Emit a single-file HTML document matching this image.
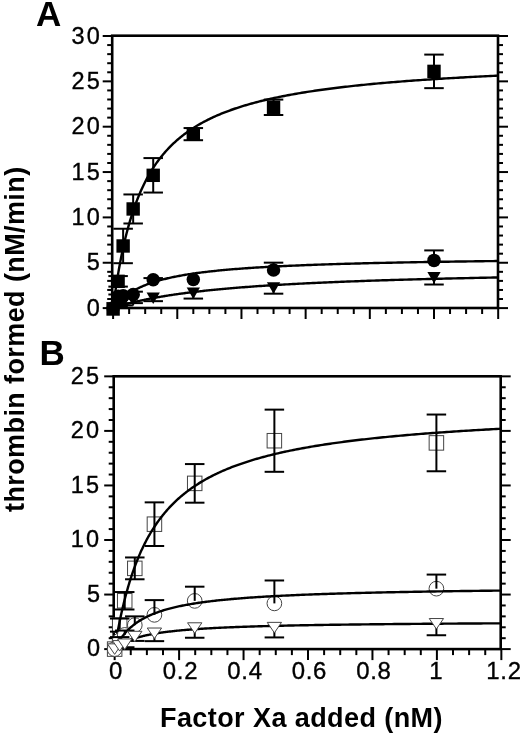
<!DOCTYPE html>
<html><head><meta charset="utf-8"><style>
html,body{margin:0;padding:0;background:#fff;width:520px;height:734px;overflow:hidden;font-family:"Liberation Sans",sans-serif}
svg{display:block;filter:grayscale(1)}
</style></head><body>
<svg width="520" height="734" viewBox="0 0 520 734" font-family="Liberation Sans, sans-serif">
<rect width="520" height="734" fill="#fff"/>
<rect x="112.20" y="35.70" width="385.80" height="272.30" fill="none" stroke="#000" stroke-width="2.6"/>
<line x1="102.70" y1="308.10" x2="112.20" y2="308.10" stroke="#000" stroke-width="2.0"/>
<line x1="498.00" y1="308.10" x2="508.00" y2="308.10" stroke="#000" stroke-width="2.0"/>
<line x1="107.20" y1="299.03" x2="112.20" y2="299.03" stroke="#000" stroke-width="2.0"/>
<line x1="498.00" y1="299.03" x2="503.00" y2="299.03" stroke="#000" stroke-width="2.0"/>
<line x1="107.20" y1="289.96" x2="112.20" y2="289.96" stroke="#000" stroke-width="2.0"/>
<line x1="498.00" y1="289.96" x2="503.00" y2="289.96" stroke="#000" stroke-width="2.0"/>
<line x1="107.20" y1="280.89" x2="112.20" y2="280.89" stroke="#000" stroke-width="2.0"/>
<line x1="498.00" y1="280.89" x2="503.00" y2="280.89" stroke="#000" stroke-width="2.0"/>
<line x1="107.20" y1="271.82" x2="112.20" y2="271.82" stroke="#000" stroke-width="2.0"/>
<line x1="498.00" y1="271.82" x2="503.00" y2="271.82" stroke="#000" stroke-width="2.0"/>
<line x1="102.70" y1="262.75" x2="112.20" y2="262.75" stroke="#000" stroke-width="2.0"/>
<line x1="498.00" y1="262.75" x2="508.00" y2="262.75" stroke="#000" stroke-width="2.0"/>
<line x1="107.20" y1="253.68" x2="112.20" y2="253.68" stroke="#000" stroke-width="2.0"/>
<line x1="498.00" y1="253.68" x2="503.00" y2="253.68" stroke="#000" stroke-width="2.0"/>
<line x1="107.20" y1="244.61" x2="112.20" y2="244.61" stroke="#000" stroke-width="2.0"/>
<line x1="498.00" y1="244.61" x2="503.00" y2="244.61" stroke="#000" stroke-width="2.0"/>
<line x1="107.20" y1="235.54" x2="112.20" y2="235.54" stroke="#000" stroke-width="2.0"/>
<line x1="498.00" y1="235.54" x2="503.00" y2="235.54" stroke="#000" stroke-width="2.0"/>
<line x1="107.20" y1="226.47" x2="112.20" y2="226.47" stroke="#000" stroke-width="2.0"/>
<line x1="498.00" y1="226.47" x2="503.00" y2="226.47" stroke="#000" stroke-width="2.0"/>
<line x1="102.70" y1="217.40" x2="112.20" y2="217.40" stroke="#000" stroke-width="2.0"/>
<line x1="498.00" y1="217.40" x2="508.00" y2="217.40" stroke="#000" stroke-width="2.0"/>
<line x1="107.20" y1="208.33" x2="112.20" y2="208.33" stroke="#000" stroke-width="2.0"/>
<line x1="498.00" y1="208.33" x2="503.00" y2="208.33" stroke="#000" stroke-width="2.0"/>
<line x1="107.20" y1="199.26" x2="112.20" y2="199.26" stroke="#000" stroke-width="2.0"/>
<line x1="498.00" y1="199.26" x2="503.00" y2="199.26" stroke="#000" stroke-width="2.0"/>
<line x1="107.20" y1="190.19" x2="112.20" y2="190.19" stroke="#000" stroke-width="2.0"/>
<line x1="498.00" y1="190.19" x2="503.00" y2="190.19" stroke="#000" stroke-width="2.0"/>
<line x1="107.20" y1="181.12" x2="112.20" y2="181.12" stroke="#000" stroke-width="2.0"/>
<line x1="498.00" y1="181.12" x2="503.00" y2="181.12" stroke="#000" stroke-width="2.0"/>
<line x1="102.70" y1="172.05" x2="112.20" y2="172.05" stroke="#000" stroke-width="2.0"/>
<line x1="498.00" y1="172.05" x2="508.00" y2="172.05" stroke="#000" stroke-width="2.0"/>
<line x1="107.20" y1="162.98" x2="112.20" y2="162.98" stroke="#000" stroke-width="2.0"/>
<line x1="498.00" y1="162.98" x2="503.00" y2="162.98" stroke="#000" stroke-width="2.0"/>
<line x1="107.20" y1="153.91" x2="112.20" y2="153.91" stroke="#000" stroke-width="2.0"/>
<line x1="498.00" y1="153.91" x2="503.00" y2="153.91" stroke="#000" stroke-width="2.0"/>
<line x1="107.20" y1="144.84" x2="112.20" y2="144.84" stroke="#000" stroke-width="2.0"/>
<line x1="498.00" y1="144.84" x2="503.00" y2="144.84" stroke="#000" stroke-width="2.0"/>
<line x1="107.20" y1="135.77" x2="112.20" y2="135.77" stroke="#000" stroke-width="2.0"/>
<line x1="498.00" y1="135.77" x2="503.00" y2="135.77" stroke="#000" stroke-width="2.0"/>
<line x1="102.70" y1="126.70" x2="112.20" y2="126.70" stroke="#000" stroke-width="2.0"/>
<line x1="498.00" y1="126.70" x2="508.00" y2="126.70" stroke="#000" stroke-width="2.0"/>
<line x1="107.20" y1="117.63" x2="112.20" y2="117.63" stroke="#000" stroke-width="2.0"/>
<line x1="498.00" y1="117.63" x2="503.00" y2="117.63" stroke="#000" stroke-width="2.0"/>
<line x1="107.20" y1="108.56" x2="112.20" y2="108.56" stroke="#000" stroke-width="2.0"/>
<line x1="498.00" y1="108.56" x2="503.00" y2="108.56" stroke="#000" stroke-width="2.0"/>
<line x1="107.20" y1="99.49" x2="112.20" y2="99.49" stroke="#000" stroke-width="2.0"/>
<line x1="498.00" y1="99.49" x2="503.00" y2="99.49" stroke="#000" stroke-width="2.0"/>
<line x1="107.20" y1="90.42" x2="112.20" y2="90.42" stroke="#000" stroke-width="2.0"/>
<line x1="498.00" y1="90.42" x2="503.00" y2="90.42" stroke="#000" stroke-width="2.0"/>
<line x1="102.70" y1="81.35" x2="112.20" y2="81.35" stroke="#000" stroke-width="2.0"/>
<line x1="498.00" y1="81.35" x2="508.00" y2="81.35" stroke="#000" stroke-width="2.0"/>
<line x1="107.20" y1="72.28" x2="112.20" y2="72.28" stroke="#000" stroke-width="2.0"/>
<line x1="498.00" y1="72.28" x2="503.00" y2="72.28" stroke="#000" stroke-width="2.0"/>
<line x1="107.20" y1="63.21" x2="112.20" y2="63.21" stroke="#000" stroke-width="2.0"/>
<line x1="498.00" y1="63.21" x2="503.00" y2="63.21" stroke="#000" stroke-width="2.0"/>
<line x1="107.20" y1="54.14" x2="112.20" y2="54.14" stroke="#000" stroke-width="2.0"/>
<line x1="498.00" y1="54.14" x2="503.00" y2="54.14" stroke="#000" stroke-width="2.0"/>
<line x1="107.20" y1="45.07" x2="112.20" y2="45.07" stroke="#000" stroke-width="2.0"/>
<line x1="498.00" y1="45.07" x2="503.00" y2="45.07" stroke="#000" stroke-width="2.0"/>
<line x1="102.70" y1="36.00" x2="112.20" y2="36.00" stroke="#000" stroke-width="2.0"/>
<line x1="498.00" y1="36.00" x2="508.00" y2="36.00" stroke="#000" stroke-width="2.0"/>
<line x1="113.10" y1="308.00" x2="113.10" y2="319.00" stroke="#000" stroke-width="2.0"/>
<line x1="129.14" y1="308.00" x2="129.14" y2="314.00" stroke="#000" stroke-width="2.0"/>
<line x1="145.19" y1="308.00" x2="145.19" y2="314.00" stroke="#000" stroke-width="2.0"/>
<line x1="161.24" y1="308.00" x2="161.24" y2="314.00" stroke="#000" stroke-width="2.0"/>
<line x1="177.28" y1="308.00" x2="177.28" y2="319.00" stroke="#000" stroke-width="2.0"/>
<line x1="193.32" y1="308.00" x2="193.32" y2="314.00" stroke="#000" stroke-width="2.0"/>
<line x1="209.37" y1="308.00" x2="209.37" y2="314.00" stroke="#000" stroke-width="2.0"/>
<line x1="225.41" y1="308.00" x2="225.41" y2="314.00" stroke="#000" stroke-width="2.0"/>
<line x1="241.46" y1="308.00" x2="241.46" y2="319.00" stroke="#000" stroke-width="2.0"/>
<line x1="257.50" y1="308.00" x2="257.50" y2="314.00" stroke="#000" stroke-width="2.0"/>
<line x1="273.55" y1="308.00" x2="273.55" y2="314.00" stroke="#000" stroke-width="2.0"/>
<line x1="289.60" y1="308.00" x2="289.60" y2="314.00" stroke="#000" stroke-width="2.0"/>
<line x1="305.64" y1="308.00" x2="305.64" y2="319.00" stroke="#000" stroke-width="2.0"/>
<line x1="321.68" y1="308.00" x2="321.68" y2="314.00" stroke="#000" stroke-width="2.0"/>
<line x1="337.73" y1="308.00" x2="337.73" y2="314.00" stroke="#000" stroke-width="2.0"/>
<line x1="353.77" y1="308.00" x2="353.77" y2="314.00" stroke="#000" stroke-width="2.0"/>
<line x1="369.82" y1="308.00" x2="369.82" y2="319.00" stroke="#000" stroke-width="2.0"/>
<line x1="385.87" y1="308.00" x2="385.87" y2="314.00" stroke="#000" stroke-width="2.0"/>
<line x1="401.91" y1="308.00" x2="401.91" y2="314.00" stroke="#000" stroke-width="2.0"/>
<line x1="417.96" y1="308.00" x2="417.96" y2="314.00" stroke="#000" stroke-width="2.0"/>
<line x1="434.00" y1="308.00" x2="434.00" y2="319.00" stroke="#000" stroke-width="2.0"/>
<line x1="450.04" y1="308.00" x2="450.04" y2="314.00" stroke="#000" stroke-width="2.0"/>
<line x1="466.09" y1="308.00" x2="466.09" y2="314.00" stroke="#000" stroke-width="2.0"/>
<line x1="482.13" y1="308.00" x2="482.13" y2="314.00" stroke="#000" stroke-width="2.0"/>
<line x1="498.18" y1="308.00" x2="498.18" y2="319.00" stroke="#000" stroke-width="2.0"/>
<polyline points="113.10,308.10 113.10,308.07 113.12,307.97 113.14,307.80 113.17,307.56 113.21,307.26 113.25,306.89 113.31,306.46 113.37,305.96 113.45,305.39 113.53,304.77 113.62,304.08 113.72,303.33 113.82,302.52 113.94,301.65 114.06,300.73 114.20,299.74 114.34,298.71 114.49,297.62 114.64,296.48 114.81,295.28 114.99,294.04 115.17,292.76 115.36,291.42 115.56,290.05 115.77,288.63 115.99,287.17 116.22,285.68 116.45,284.15 116.70,282.58 116.95,280.99 117.21,279.36 117.48,277.70 117.76,276.02 118.05,274.31 118.34,272.58 118.65,270.83 118.96,269.05 119.28,267.26 119.61,265.45 119.95,263.63 120.29,261.79 120.65,259.94 121.01,258.08 121.38,256.21 121.76,254.34 122.15,252.45 122.55,250.57 122.96,248.68 123.37,246.79 123.80,244.89 124.23,243.00 124.67,241.11 125.12,239.22 125.58,237.33 126.04,235.45 126.52,233.57 127.00,231.70 127.49,229.84 127.99,227.98 128.50,226.14 129.02,224.30 129.55,222.47 130.08,220.66 130.63,218.85 131.18,217.06 131.74,215.27 132.31,213.50 132.88,211.75 133.47,210.01 134.07,208.28 134.67,206.56 135.28,204.87 135.90,203.18 136.53,201.51 137.17,199.86 137.81,198.22 138.47,196.60 139.13,195.00 139.80,193.41 140.48,191.84 141.17,190.28 141.87,188.74 142.58,187.22 143.29,185.71 144.01,184.23 144.75,182.75 145.49,181.30 146.23,179.86 146.99,178.44 147.76,177.04 148.53,175.65 149.31,174.28 150.11,172.92 150.91,171.59 151.71,170.26 152.53,168.96 153.36,167.67 154.19,166.40 155.04,165.14 155.89,163.90 156.75,162.68 157.62,161.47 158.49,160.28 159.38,159.10 160.27,157.94 161.18,156.80 162.09,155.67 163.01,154.55 163.93,153.45 164.87,152.36 165.82,151.29 166.77,150.23 167.73,149.19 168.71,148.16 169.69,147.14 170.67,146.14 171.67,145.15 172.68,144.17 173.69,143.21 174.71,142.26 175.74,141.33 176.78,140.40 177.83,139.49 178.89,138.59 179.95,137.71 181.03,136.83 182.11,135.97 183.20,135.12 184.30,134.28 185.41,133.45 186.53,132.63 187.65,131.83 188.79,131.03 189.93,130.25 191.08,129.47 192.24,128.71 193.41,127.96 194.58,127.22 195.77,126.48 196.96,125.76 198.16,125.05 199.38,124.35 200.59,123.65 201.82,122.97 203.06,122.29 204.30,121.62 205.56,120.97 206.82,120.32 208.09,119.68 209.37,119.05 210.66,118.42 211.95,117.81 213.26,117.20 214.57,116.60 215.89,116.01 217.23,115.43 218.56,114.85 219.91,114.29 221.27,113.73 222.63,113.17 224.01,112.63 225.39,112.09 226.78,111.56 228.18,111.03 229.59,110.51 231.00,110.00 232.43,109.50 233.86,109.00 235.30,108.51 236.75,108.02 238.21,107.54 239.68,107.07 241.16,106.60 242.64,106.14 244.13,105.68 245.64,105.23 247.15,104.79 248.67,104.35 250.19,103.92 251.73,103.49 253.27,103.06 254.83,102.65 256.39,102.24 257.96,101.83 259.54,101.43 261.12,101.03 262.72,100.64 264.33,100.25 265.94,99.87 267.56,99.49 269.19,99.11 270.83,98.75 272.48,98.38 274.13,98.02 275.80,97.66 277.47,97.31 279.15,96.97 280.84,96.62 282.54,96.28 284.25,95.95 285.96,95.62 287.69,95.29 289.42,94.97 291.16,94.65 292.91,94.33 294.67,94.02 296.44,93.71 298.21,93.40 300.00,93.10 301.79,92.80 303.59,92.51 305.40,92.22 307.22,91.93 309.05,91.64 310.88,91.36 312.73,91.08 314.58,90.81 316.44,90.54 318.31,90.27 320.19,90.00 322.07,89.74 323.97,89.48 325.87,89.22 327.79,88.97 329.71,88.71 331.64,88.47 333.58,88.22 335.52,87.98 337.48,87.73 339.44,87.50 341.41,87.26 343.39,87.03 345.38,86.80 347.38,86.57 349.39,86.34 351.40,86.12 353.43,85.90 355.46,85.68 357.50,85.46 359.55,85.25 361.61,85.04 363.68,84.83 365.75,84.62 367.83,84.42 369.93,84.21 372.03,84.01 374.14,83.81 376.26,83.62 378.38,83.42 380.52,83.23 382.66,83.04 384.81,82.85 386.97,82.66 389.14,82.48 391.32,82.30 393.51,82.11 395.70,81.93 397.91,81.76 400.12,81.58 402.34,81.41 404.57,81.24 406.80,81.06 409.05,80.90 411.31,80.73 413.57,80.56 415.84,80.40 418.12,80.24 420.41,80.08 422.71,79.92 425.01,79.76 427.33,79.60 429.65,79.45 431.98,79.29 434.33,79.14 436.67,78.99 439.03,78.84 441.40,78.70 443.77,78.55 446.16,78.41 448.55,78.26 450.95,78.12 453.36,77.98 455.77,77.84 458.20,77.70 460.63,77.57 463.08,77.43 465.53,77.30 467.99,77.16 470.46,77.03 472.94,76.90 475.42,76.77 477.92,76.64 480.42,76.52 482.93,76.39 485.45,76.27 487.98,76.14 490.52,76.02 493.06,75.90 495.62,75.78 498.18,75.66" fill="none" stroke="#000" stroke-width="2.4" stroke-linejoin="round"/>
<polyline points="113.10,308.10 113.10,308.09 113.12,308.08 113.14,308.05 113.17,308.01 113.21,307.96 113.25,307.90 113.31,307.83 113.37,307.75 113.45,307.66 113.53,307.56 113.62,307.45 113.72,307.32 113.82,307.19 113.94,307.05 114.06,306.90 114.20,306.74 114.34,306.57 114.49,306.39 114.64,306.20 114.81,306.00 114.99,305.80 115.17,305.58 115.36,305.36 115.56,305.13 115.77,304.89 115.99,304.65 116.22,304.40 116.45,304.14 116.70,303.88 116.95,303.61 117.21,303.33 117.48,303.05 117.76,302.76 118.05,302.47 118.34,302.17 118.65,301.86 118.96,301.56 119.28,301.25 119.61,300.93 119.95,300.61 120.29,300.29 120.65,299.96 121.01,299.64 121.38,299.31 121.76,298.97 122.15,298.64 122.55,298.30 122.96,297.96 123.37,297.62 123.80,297.28 124.23,296.93 124.67,296.59 125.12,296.24 125.58,295.90 126.04,295.55 126.52,295.20 127.00,294.86 127.49,294.51 127.99,294.17 128.50,293.82 129.02,293.48 129.55,293.13 130.08,292.79 130.63,292.44 131.18,292.10 131.74,291.76 132.31,291.42 132.88,291.09 133.47,290.75 134.07,290.42 134.67,290.08 135.28,289.75 135.90,289.42 136.53,289.10 137.17,288.77 137.81,288.45 138.47,288.13 139.13,287.81 139.80,287.49 140.48,287.18 141.17,286.87 141.87,286.56 142.58,286.25 143.29,285.95 144.01,285.64 144.75,285.34 145.49,285.05 146.23,284.75 146.99,284.46 147.76,284.17 148.53,283.89 149.31,283.60 150.11,283.32 150.91,283.05 151.71,282.77 152.53,282.50 153.36,282.23 154.19,281.96 155.04,281.70 155.89,281.44 156.75,281.18 157.62,280.92 158.49,280.67 159.38,280.42 160.27,280.17 161.18,279.92 162.09,279.68 163.01,279.44 163.93,279.20 164.87,278.97 165.82,278.74 166.77,278.51 167.73,278.28 168.71,278.06 169.69,277.84 170.67,277.62 171.67,277.40 172.68,277.19 173.69,276.97 174.71,276.76 175.74,276.56 176.78,276.35 177.83,276.15 178.89,275.95 179.95,275.76 181.03,275.56 182.11,275.37 183.20,275.18 184.30,274.99 185.41,274.80 186.53,274.62 187.65,274.44 188.79,274.26 189.93,274.08 191.08,273.91 192.24,273.74 193.41,273.56 194.58,273.40 195.77,273.23 196.96,273.06 198.16,272.90 199.38,272.74 200.59,272.58 201.82,272.43 203.06,272.27 204.30,272.12 205.56,271.97 206.82,271.82 208.09,271.67 209.37,271.52 210.66,271.38 211.95,271.24 213.26,271.10 214.57,270.96 215.89,270.82 217.23,270.68 218.56,270.55 219.91,270.42 221.27,270.29 222.63,270.16 224.01,270.03 225.39,269.90 226.78,269.78 228.18,269.65 229.59,269.53 231.00,269.41 232.43,269.29 233.86,269.17 235.30,269.06 236.75,268.94 238.21,268.83 239.68,268.72 241.16,268.61 242.64,268.50 244.13,268.39 245.64,268.28 247.15,268.18 248.67,268.07 250.19,267.97 251.73,267.87 253.27,267.77 254.83,267.67 256.39,267.57 257.96,267.47 259.54,267.37 261.12,267.28 262.72,267.18 264.33,267.09 265.94,267.00 267.56,266.91 269.19,266.82 270.83,266.73 272.48,266.64 274.13,266.55 275.80,266.47 277.47,266.38 279.15,266.30 280.84,266.21 282.54,266.13 284.25,266.05 285.96,265.97 287.69,265.89 289.42,265.81 291.16,265.73 292.91,265.66 294.67,265.58 296.44,265.51 298.21,265.43 300.00,265.36 301.79,265.29 303.59,265.21 305.40,265.14 307.22,265.07 309.05,265.00 310.88,264.93 312.73,264.86 314.58,264.80 316.44,264.73 318.31,264.66 320.19,264.60 322.07,264.53 323.97,264.47 325.87,264.41 327.79,264.34 329.71,264.28 331.64,264.22 333.58,264.16 335.52,264.10 337.48,264.04 339.44,263.98 341.41,263.92 343.39,263.87 345.38,263.81 347.38,263.75 349.39,263.70 351.40,263.64 353.43,263.59 355.46,263.53 357.50,263.48 359.55,263.43 361.61,263.37 363.68,263.32 365.75,263.27 367.83,263.22 369.93,263.17 372.03,263.12 374.14,263.07 376.26,263.02 378.38,262.97 380.52,262.92 382.66,262.88 384.81,262.83 386.97,262.78 389.14,262.74 391.32,262.69 393.51,262.64 395.70,262.60 397.91,262.56 400.12,262.51 402.34,262.47 404.57,262.42 406.80,262.38 409.05,262.34 411.31,262.30 413.57,262.26 415.84,262.22 418.12,262.17 420.41,262.13 422.71,262.09 425.01,262.05 427.33,262.02 429.65,261.98 431.98,261.94 434.33,261.90 436.67,261.86 439.03,261.82 441.40,261.79 443.77,261.75 446.16,261.71 448.55,261.68 450.95,261.64 453.36,261.61 455.77,261.57 458.20,261.54 460.63,261.50 463.08,261.47 465.53,261.43 467.99,261.40 470.46,261.37 472.94,261.33 475.42,261.30 477.92,261.27 480.42,261.24 482.93,261.21 485.45,261.17 487.98,261.14 490.52,261.11 493.06,261.08 495.62,261.05 498.18,261.02" fill="none" stroke="#000" stroke-width="2.4" stroke-linejoin="round"/>
<polyline points="113.10,308.10 113.10,308.10 113.12,308.09 113.14,308.09 113.17,308.08 113.21,308.06 113.25,308.05 113.31,308.03 113.37,308.01 113.45,307.99 113.53,307.96 113.62,307.93 113.72,307.90 113.82,307.86 113.94,307.82 114.06,307.78 114.20,307.74 114.34,307.69 114.49,307.64 114.64,307.59 114.81,307.54 114.99,307.48 115.17,307.42 115.36,307.36 115.56,307.30 115.77,307.23 115.99,307.16 116.22,307.09 116.45,307.02 116.70,306.94 116.95,306.86 117.21,306.78 117.48,306.69 117.76,306.61 118.05,306.52 118.34,306.43 118.65,306.34 118.96,306.24 119.28,306.15 119.61,306.05 119.95,305.95 120.29,305.84 120.65,305.74 121.01,305.63 121.38,305.52 121.76,305.41 122.15,305.30 122.55,305.19 122.96,305.07 123.37,304.95 123.80,304.83 124.23,304.71 124.67,304.59 125.12,304.47 125.58,304.34 126.04,304.21 126.52,304.09 127.00,303.96 127.49,303.82 127.99,303.69 128.50,303.56 129.02,303.42 129.55,303.29 130.08,303.15 130.63,303.01 131.18,302.87 131.74,302.73 132.31,302.59 132.88,302.45 133.47,302.30 134.07,302.16 134.67,302.01 135.28,301.87 135.90,301.72 136.53,301.57 137.17,301.43 137.81,301.28 138.47,301.13 139.13,300.98 139.80,300.83 140.48,300.68 141.17,300.53 141.87,300.37 142.58,300.22 143.29,300.07 144.01,299.91 144.75,299.76 145.49,299.61 146.23,299.45 146.99,299.30 147.76,299.14 148.53,298.99 149.31,298.83 150.11,298.68 150.91,298.52 151.71,298.37 152.53,298.21 153.36,298.06 154.19,297.90 155.04,297.75 155.89,297.59 156.75,297.44 157.62,297.28 158.49,297.13 159.38,296.97 160.27,296.82 161.18,296.66 162.09,296.51 163.01,296.35 163.93,296.20 164.87,296.04 165.82,295.89 166.77,295.74 167.73,295.59 168.71,295.43 169.69,295.28 170.67,295.13 171.67,294.98 172.68,294.83 173.69,294.68 174.71,294.53 175.74,294.38 176.78,294.23 177.83,294.08 178.89,293.93 179.95,293.78 181.03,293.63 182.11,293.49 183.20,293.34 184.30,293.19 185.41,293.05 186.53,292.90 187.65,292.76 188.79,292.62 189.93,292.47 191.08,292.33 192.24,292.19 193.41,292.05 194.58,291.91 195.77,291.77 196.96,291.63 198.16,291.49 199.38,291.35 200.59,291.21 201.82,291.08 203.06,290.94 204.30,290.81 205.56,290.67 206.82,290.54 208.09,290.40 209.37,290.27 210.66,290.14 211.95,290.01 213.26,289.88 214.57,289.75 215.89,289.62 217.23,289.49 218.56,289.36 219.91,289.23 221.27,289.11 222.63,288.98 224.01,288.86 225.39,288.73 226.78,288.61 228.18,288.48 229.59,288.36 231.00,288.24 232.43,288.12 233.86,288.00 235.30,287.88 236.75,287.76 238.21,287.64 239.68,287.53 241.16,287.41 242.64,287.29 244.13,287.18 245.64,287.06 247.15,286.95 248.67,286.84 250.19,286.72 251.73,286.61 253.27,286.50 254.83,286.39 256.39,286.28 257.96,286.17 259.54,286.06 261.12,285.96 262.72,285.85 264.33,285.74 265.94,285.64 267.56,285.53 269.19,285.43 270.83,285.33 272.48,285.22 274.13,285.12 275.80,285.02 277.47,284.92 279.15,284.82 280.84,284.72 282.54,284.62 284.25,284.52 285.96,284.42 287.69,284.33 289.42,284.23 291.16,284.14 292.91,284.04 294.67,283.95 296.44,283.85 298.21,283.76 300.00,283.67 301.79,283.58 303.59,283.49 305.40,283.40 307.22,283.31 309.05,283.22 310.88,283.13 312.73,283.04 314.58,282.95 316.44,282.87 318.31,282.78 320.19,282.69 322.07,282.61 323.97,282.53 325.87,282.44 327.79,282.36 329.71,282.28 331.64,282.19 333.58,282.11 335.52,282.03 337.48,281.95 339.44,281.87 341.41,281.79 343.39,281.71 345.38,281.63 347.38,281.56 349.39,281.48 351.40,281.40 353.43,281.33 355.46,281.25 357.50,281.18 359.55,281.10 361.61,281.03 363.68,280.96 365.75,280.88 367.83,280.81 369.93,280.74 372.03,280.67 374.14,280.60 376.26,280.53 378.38,280.46 380.52,280.39 382.66,280.32 384.81,280.25 386.97,280.18 389.14,280.11 391.32,280.05 393.51,279.98 395.70,279.91 397.91,279.85 400.12,279.78 402.34,279.72 404.57,279.65 406.80,279.59 409.05,279.53 411.31,279.46 413.57,279.40 415.84,279.34 418.12,279.28 420.41,279.22 422.71,279.16 425.01,279.10 427.33,279.04 429.65,278.98 431.98,278.92 434.33,278.86 436.67,278.80 439.03,278.74 441.40,278.69 443.77,278.63 446.16,278.57 448.55,278.52 450.95,278.46 453.36,278.40 455.77,278.35 458.20,278.29 460.63,278.24 463.08,278.19 465.53,278.13 467.99,278.08 470.46,278.03 472.94,277.97 475.42,277.92 477.92,277.87 480.42,277.82 482.93,277.77 485.45,277.72 487.98,277.67 490.52,277.62 493.06,277.57 495.62,277.52 498.18,277.47" fill="none" stroke="#000" stroke-width="2.4" stroke-linejoin="round"/>
<polygon points="106.45,302.35 119.75,302.35 113.10,313.85" fill="#000"/>
<line x1="118.11" y1="304.47" x2="118.11" y2="306.29" stroke="#000" stroke-width="2.0"/>
<line x1="108.36" y1="306.29" x2="127.86" y2="306.29" stroke="#000" stroke-width="2.0"/>
<polygon points="111.46,298.72 124.76,298.72 118.11,310.22" fill="#000"/>
<line x1="123.13" y1="302.66" x2="123.13" y2="305.38" stroke="#000" stroke-width="2.0"/>
<line x1="113.38" y1="305.38" x2="132.88" y2="305.38" stroke="#000" stroke-width="2.0"/>
<polygon points="116.48,296.91 129.78,296.91 123.13,308.41" fill="#000"/>
<line x1="133.16" y1="300.39" x2="133.16" y2="303.11" stroke="#000" stroke-width="2.0"/>
<line x1="123.41" y1="303.11" x2="142.91" y2="303.11" stroke="#000" stroke-width="2.0"/>
<polygon points="126.51,294.64 139.81,294.64 133.16,306.14" fill="#000"/>
<line x1="153.21" y1="298.35" x2="153.21" y2="301.16" stroke="#000" stroke-width="2.0"/>
<line x1="143.46" y1="301.16" x2="162.96" y2="301.16" stroke="#000" stroke-width="2.0"/>
<polygon points="146.56,292.60 159.86,292.60 153.21,304.10" fill="#000"/>
<line x1="193.32" y1="293.32" x2="193.32" y2="298.58" stroke="#000" stroke-width="2.0"/>
<line x1="183.57" y1="298.58" x2="203.07" y2="298.58" stroke="#000" stroke-width="2.0"/>
<polygon points="186.67,287.57 199.97,287.57 193.32,299.07" fill="#000"/>
<line x1="273.55" y1="287.96" x2="273.55" y2="293.68" stroke="#000" stroke-width="2.0"/>
<line x1="263.80" y1="293.68" x2="283.30" y2="293.68" stroke="#000" stroke-width="2.0"/>
<polygon points="266.90,282.21 280.20,282.21 273.55,293.71" fill="#000"/>
<line x1="434.00" y1="277.72" x2="434.00" y2="284.52" stroke="#000" stroke-width="2.0"/>
<line x1="424.25" y1="284.52" x2="443.75" y2="284.52" stroke="#000" stroke-width="2.0"/>
<polygon points="427.35,271.97 440.65,271.97 434.00,283.47" fill="#000"/>
<circle cx="113.10" cy="308.10" r="6.75" fill="#000"/>
<line x1="118.11" y1="294.50" x2="118.11" y2="296.31" stroke="#000" stroke-width="2.0"/>
<line x1="108.36" y1="294.50" x2="127.86" y2="294.50" stroke="#000" stroke-width="2.0"/>
<circle cx="118.11" cy="296.31" r="6.75" fill="#000"/>
<line x1="123.13" y1="294.04" x2="123.13" y2="295.86" stroke="#000" stroke-width="2.0"/>
<line x1="113.38" y1="294.04" x2="132.88" y2="294.04" stroke="#000" stroke-width="2.0"/>
<circle cx="123.13" cy="295.86" r="6.75" fill="#000"/>
<line x1="133.16" y1="291.68" x2="133.16" y2="294.40" stroke="#000" stroke-width="2.0"/>
<line x1="123.41" y1="291.68" x2="142.91" y2="291.68" stroke="#000" stroke-width="2.0"/>
<circle cx="133.16" cy="294.40" r="6.75" fill="#000"/>
<line x1="153.21" y1="278.08" x2="153.21" y2="279.80" stroke="#000" stroke-width="2.0"/>
<line x1="143.46" y1="278.08" x2="162.96" y2="278.08" stroke="#000" stroke-width="2.0"/>
<circle cx="153.21" cy="279.80" r="6.75" fill="#000"/>
<circle cx="193.32" cy="279.44" r="6.75" fill="#000"/>
<line x1="273.55" y1="262.66" x2="273.55" y2="269.92" stroke="#000" stroke-width="2.0"/>
<line x1="263.80" y1="262.66" x2="283.30" y2="262.66" stroke="#000" stroke-width="2.0"/>
<circle cx="273.55" cy="269.92" r="6.75" fill="#000"/>
<line x1="434.00" y1="250.41" x2="434.00" y2="260.39" stroke="#000" stroke-width="2.0"/>
<line x1="424.25" y1="250.41" x2="443.75" y2="250.41" stroke="#000" stroke-width="2.0"/>
<circle cx="434.00" cy="260.39" r="6.75" fill="#000"/>
<rect x="106.40" y="302.31" width="13.40" height="13.40" fill="#000"/>
<line x1="118.11" y1="276.08" x2="118.11" y2="286.60" stroke="#000" stroke-width="2.0"/>
<line x1="108.36" y1="276.08" x2="127.86" y2="276.08" stroke="#000" stroke-width="2.0"/>
<line x1="108.36" y1="286.60" x2="127.86" y2="286.60" stroke="#000" stroke-width="2.0"/>
<rect x="111.41" y="274.64" width="13.40" height="13.40" fill="#000"/>
<line x1="123.13" y1="228.74" x2="123.13" y2="263.20" stroke="#000" stroke-width="2.0"/>
<line x1="113.38" y1="228.74" x2="132.88" y2="228.74" stroke="#000" stroke-width="2.0"/>
<line x1="113.38" y1="263.20" x2="132.88" y2="263.20" stroke="#000" stroke-width="2.0"/>
<rect x="116.43" y="239.27" width="13.40" height="13.40" fill="#000"/>
<line x1="133.16" y1="194.45" x2="133.16" y2="223.48" stroke="#000" stroke-width="2.0"/>
<line x1="123.41" y1="194.45" x2="142.91" y2="194.45" stroke="#000" stroke-width="2.0"/>
<line x1="123.41" y1="223.48" x2="142.91" y2="223.48" stroke="#000" stroke-width="2.0"/>
<rect x="126.46" y="202.26" width="13.40" height="13.40" fill="#000"/>
<line x1="153.21" y1="158.08" x2="153.21" y2="192.55" stroke="#000" stroke-width="2.0"/>
<line x1="143.46" y1="158.08" x2="162.96" y2="158.08" stroke="#000" stroke-width="2.0"/>
<line x1="143.46" y1="192.55" x2="162.96" y2="192.55" stroke="#000" stroke-width="2.0"/>
<rect x="146.51" y="168.62" width="13.40" height="13.40" fill="#000"/>
<line x1="193.32" y1="128.06" x2="193.32" y2="140.21" stroke="#000" stroke-width="2.0"/>
<line x1="183.57" y1="128.06" x2="203.07" y2="128.06" stroke="#000" stroke-width="2.0"/>
<line x1="183.57" y1="140.21" x2="203.07" y2="140.21" stroke="#000" stroke-width="2.0"/>
<rect x="186.62" y="127.44" width="13.40" height="13.40" fill="#000"/>
<line x1="273.55" y1="99.58" x2="273.55" y2="115.00" stroke="#000" stroke-width="2.0"/>
<line x1="263.80" y1="99.58" x2="283.30" y2="99.58" stroke="#000" stroke-width="2.0"/>
<line x1="263.80" y1="115.00" x2="283.30" y2="115.00" stroke="#000" stroke-width="2.0"/>
<rect x="266.85" y="100.59" width="13.40" height="13.40" fill="#000"/>
<line x1="434.00" y1="54.59" x2="434.00" y2="88.15" stroke="#000" stroke-width="2.0"/>
<line x1="424.25" y1="54.59" x2="443.75" y2="54.59" stroke="#000" stroke-width="2.0"/>
<line x1="424.25" y1="88.15" x2="443.75" y2="88.15" stroke="#000" stroke-width="2.0"/>
<rect x="427.30" y="64.67" width="13.40" height="13.40" fill="#000"/>
<rect x="113.70" y="376.30" width="387.00" height="272.80" fill="none" stroke="#000" stroke-width="2.6"/>
<line x1="104.20" y1="649.10" x2="113.70" y2="649.10" stroke="#000" stroke-width="2.0"/>
<line x1="500.70" y1="649.10" x2="510.70" y2="649.10" stroke="#000" stroke-width="2.0"/>
<line x1="108.70" y1="638.19" x2="113.70" y2="638.19" stroke="#000" stroke-width="2.0"/>
<line x1="500.70" y1="638.19" x2="505.70" y2="638.19" stroke="#000" stroke-width="2.0"/>
<line x1="108.70" y1="627.28" x2="113.70" y2="627.28" stroke="#000" stroke-width="2.0"/>
<line x1="500.70" y1="627.28" x2="505.70" y2="627.28" stroke="#000" stroke-width="2.0"/>
<line x1="108.70" y1="616.37" x2="113.70" y2="616.37" stroke="#000" stroke-width="2.0"/>
<line x1="500.70" y1="616.37" x2="505.70" y2="616.37" stroke="#000" stroke-width="2.0"/>
<line x1="108.70" y1="605.46" x2="113.70" y2="605.46" stroke="#000" stroke-width="2.0"/>
<line x1="500.70" y1="605.46" x2="505.70" y2="605.46" stroke="#000" stroke-width="2.0"/>
<line x1="104.20" y1="594.55" x2="113.70" y2="594.55" stroke="#000" stroke-width="2.0"/>
<line x1="500.70" y1="594.55" x2="510.70" y2="594.55" stroke="#000" stroke-width="2.0"/>
<line x1="108.70" y1="583.64" x2="113.70" y2="583.64" stroke="#000" stroke-width="2.0"/>
<line x1="500.70" y1="583.64" x2="505.70" y2="583.64" stroke="#000" stroke-width="2.0"/>
<line x1="108.70" y1="572.73" x2="113.70" y2="572.73" stroke="#000" stroke-width="2.0"/>
<line x1="500.70" y1="572.73" x2="505.70" y2="572.73" stroke="#000" stroke-width="2.0"/>
<line x1="108.70" y1="561.82" x2="113.70" y2="561.82" stroke="#000" stroke-width="2.0"/>
<line x1="500.70" y1="561.82" x2="505.70" y2="561.82" stroke="#000" stroke-width="2.0"/>
<line x1="108.70" y1="550.91" x2="113.70" y2="550.91" stroke="#000" stroke-width="2.0"/>
<line x1="500.70" y1="550.91" x2="505.70" y2="550.91" stroke="#000" stroke-width="2.0"/>
<line x1="104.20" y1="540.00" x2="113.70" y2="540.00" stroke="#000" stroke-width="2.0"/>
<line x1="500.70" y1="540.00" x2="510.70" y2="540.00" stroke="#000" stroke-width="2.0"/>
<line x1="108.70" y1="529.09" x2="113.70" y2="529.09" stroke="#000" stroke-width="2.0"/>
<line x1="500.70" y1="529.09" x2="505.70" y2="529.09" stroke="#000" stroke-width="2.0"/>
<line x1="108.70" y1="518.18" x2="113.70" y2="518.18" stroke="#000" stroke-width="2.0"/>
<line x1="500.70" y1="518.18" x2="505.70" y2="518.18" stroke="#000" stroke-width="2.0"/>
<line x1="108.70" y1="507.27" x2="113.70" y2="507.27" stroke="#000" stroke-width="2.0"/>
<line x1="500.70" y1="507.27" x2="505.70" y2="507.27" stroke="#000" stroke-width="2.0"/>
<line x1="108.70" y1="496.36" x2="113.70" y2="496.36" stroke="#000" stroke-width="2.0"/>
<line x1="500.70" y1="496.36" x2="505.70" y2="496.36" stroke="#000" stroke-width="2.0"/>
<line x1="104.20" y1="485.45" x2="113.70" y2="485.45" stroke="#000" stroke-width="2.0"/>
<line x1="500.70" y1="485.45" x2="510.70" y2="485.45" stroke="#000" stroke-width="2.0"/>
<line x1="108.70" y1="474.54" x2="113.70" y2="474.54" stroke="#000" stroke-width="2.0"/>
<line x1="500.70" y1="474.54" x2="505.70" y2="474.54" stroke="#000" stroke-width="2.0"/>
<line x1="108.70" y1="463.63" x2="113.70" y2="463.63" stroke="#000" stroke-width="2.0"/>
<line x1="500.70" y1="463.63" x2="505.70" y2="463.63" stroke="#000" stroke-width="2.0"/>
<line x1="108.70" y1="452.72" x2="113.70" y2="452.72" stroke="#000" stroke-width="2.0"/>
<line x1="500.70" y1="452.72" x2="505.70" y2="452.72" stroke="#000" stroke-width="2.0"/>
<line x1="108.70" y1="441.81" x2="113.70" y2="441.81" stroke="#000" stroke-width="2.0"/>
<line x1="500.70" y1="441.81" x2="505.70" y2="441.81" stroke="#000" stroke-width="2.0"/>
<line x1="104.20" y1="430.90" x2="113.70" y2="430.90" stroke="#000" stroke-width="2.0"/>
<line x1="500.70" y1="430.90" x2="510.70" y2="430.90" stroke="#000" stroke-width="2.0"/>
<line x1="108.70" y1="419.99" x2="113.70" y2="419.99" stroke="#000" stroke-width="2.0"/>
<line x1="500.70" y1="419.99" x2="505.70" y2="419.99" stroke="#000" stroke-width="2.0"/>
<line x1="108.70" y1="409.08" x2="113.70" y2="409.08" stroke="#000" stroke-width="2.0"/>
<line x1="500.70" y1="409.08" x2="505.70" y2="409.08" stroke="#000" stroke-width="2.0"/>
<line x1="108.70" y1="398.17" x2="113.70" y2="398.17" stroke="#000" stroke-width="2.0"/>
<line x1="500.70" y1="398.17" x2="505.70" y2="398.17" stroke="#000" stroke-width="2.0"/>
<line x1="108.70" y1="387.26" x2="113.70" y2="387.26" stroke="#000" stroke-width="2.0"/>
<line x1="500.70" y1="387.26" x2="505.70" y2="387.26" stroke="#000" stroke-width="2.0"/>
<line x1="104.20" y1="376.35" x2="113.70" y2="376.35" stroke="#000" stroke-width="2.0"/>
<line x1="500.70" y1="376.35" x2="510.70" y2="376.35" stroke="#000" stroke-width="2.0"/>
<line x1="114.65" y1="649.10" x2="114.65" y2="660.10" stroke="#000" stroke-width="2.0"/>
<line x1="130.76" y1="649.10" x2="130.76" y2="655.10" stroke="#000" stroke-width="2.0"/>
<line x1="146.88" y1="649.10" x2="146.88" y2="655.10" stroke="#000" stroke-width="2.0"/>
<line x1="162.99" y1="649.10" x2="162.99" y2="655.10" stroke="#000" stroke-width="2.0"/>
<line x1="179.10" y1="649.10" x2="179.10" y2="660.10" stroke="#000" stroke-width="2.0"/>
<line x1="195.21" y1="649.10" x2="195.21" y2="655.10" stroke="#000" stroke-width="2.0"/>
<line x1="211.33" y1="649.10" x2="211.33" y2="655.10" stroke="#000" stroke-width="2.0"/>
<line x1="227.44" y1="649.10" x2="227.44" y2="655.10" stroke="#000" stroke-width="2.0"/>
<line x1="243.55" y1="649.10" x2="243.55" y2="660.10" stroke="#000" stroke-width="2.0"/>
<line x1="259.66" y1="649.10" x2="259.66" y2="655.10" stroke="#000" stroke-width="2.0"/>
<line x1="275.77" y1="649.10" x2="275.77" y2="655.10" stroke="#000" stroke-width="2.0"/>
<line x1="291.89" y1="649.10" x2="291.89" y2="655.10" stroke="#000" stroke-width="2.0"/>
<line x1="308.00" y1="649.10" x2="308.00" y2="660.10" stroke="#000" stroke-width="2.0"/>
<line x1="324.11" y1="649.10" x2="324.11" y2="655.10" stroke="#000" stroke-width="2.0"/>
<line x1="340.23" y1="649.10" x2="340.23" y2="655.10" stroke="#000" stroke-width="2.0"/>
<line x1="356.34" y1="649.10" x2="356.34" y2="655.10" stroke="#000" stroke-width="2.0"/>
<line x1="372.45" y1="649.10" x2="372.45" y2="660.10" stroke="#000" stroke-width="2.0"/>
<line x1="388.56" y1="649.10" x2="388.56" y2="655.10" stroke="#000" stroke-width="2.0"/>
<line x1="404.68" y1="649.10" x2="404.68" y2="655.10" stroke="#000" stroke-width="2.0"/>
<line x1="420.79" y1="649.10" x2="420.79" y2="655.10" stroke="#000" stroke-width="2.0"/>
<line x1="436.90" y1="649.10" x2="436.90" y2="660.10" stroke="#000" stroke-width="2.0"/>
<line x1="453.01" y1="649.10" x2="453.01" y2="655.10" stroke="#000" stroke-width="2.0"/>
<line x1="469.12" y1="649.10" x2="469.12" y2="655.10" stroke="#000" stroke-width="2.0"/>
<line x1="485.24" y1="649.10" x2="485.24" y2="655.10" stroke="#000" stroke-width="2.0"/>
<line x1="501.35" y1="649.10" x2="501.35" y2="660.10" stroke="#000" stroke-width="2.0"/>
<rect x="107.40" y="641.85" width="14.50" height="14.50" fill="#fff" stroke="#444" stroke-width="1.0"/>
<rect x="112.44" y="617.85" width="14.50" height="14.50" fill="#fff" stroke="#444" stroke-width="1.0"/>
<rect x="117.47" y="593.52" width="14.50" height="14.50" fill="#fff" stroke="#444" stroke-width="1.0"/>
<rect x="127.54" y="561.12" width="14.50" height="14.50" fill="#fff" stroke="#444" stroke-width="1.0"/>
<rect x="147.18" y="516.93" width="14.50" height="14.50" fill="#fff" stroke="#444" stroke-width="1.0"/>
<rect x="187.46" y="476.13" width="14.50" height="14.50" fill="#fff" stroke="#444" stroke-width="1.0"/>
<rect x="267.12" y="433.47" width="14.50" height="14.50" fill="#fff" stroke="#444" stroke-width="1.0"/>
<rect x="429.15" y="435.65" width="14.50" height="14.50" fill="#fff" stroke="#444" stroke-width="1.0"/>
<line x1="119.69" y1="618.55" x2="119.69" y2="631.64" stroke="#000" stroke-width="2.0"/>
<line x1="109.94" y1="618.55" x2="129.44" y2="618.55" stroke="#000" stroke-width="2.0"/>
<line x1="109.94" y1="631.64" x2="129.44" y2="631.64" stroke="#000" stroke-width="2.0"/>
<line x1="124.72" y1="592.04" x2="124.72" y2="609.50" stroke="#000" stroke-width="2.0"/>
<line x1="114.97" y1="592.04" x2="134.47" y2="592.04" stroke="#000" stroke-width="2.0"/>
<line x1="114.97" y1="609.50" x2="134.47" y2="609.50" stroke="#000" stroke-width="2.0"/>
<line x1="134.79" y1="557.46" x2="134.79" y2="579.28" stroke="#000" stroke-width="2.0"/>
<line x1="125.04" y1="557.46" x2="144.54" y2="557.46" stroke="#000" stroke-width="2.0"/>
<line x1="125.04" y1="579.28" x2="144.54" y2="579.28" stroke="#000" stroke-width="2.0"/>
<line x1="154.43" y1="502.36" x2="154.43" y2="546.00" stroke="#000" stroke-width="2.0"/>
<line x1="144.68" y1="502.36" x2="164.18" y2="502.36" stroke="#000" stroke-width="2.0"/>
<line x1="144.68" y1="546.00" x2="164.18" y2="546.00" stroke="#000" stroke-width="2.0"/>
<line x1="194.71" y1="464.07" x2="194.71" y2="502.69" stroke="#000" stroke-width="2.0"/>
<line x1="184.96" y1="464.07" x2="204.46" y2="464.07" stroke="#000" stroke-width="2.0"/>
<line x1="184.96" y1="502.69" x2="204.46" y2="502.69" stroke="#000" stroke-width="2.0"/>
<line x1="274.38" y1="409.63" x2="274.38" y2="471.81" stroke="#000" stroke-width="2.0"/>
<line x1="264.62" y1="409.63" x2="284.12" y2="409.63" stroke="#000" stroke-width="2.0"/>
<line x1="264.62" y1="471.81" x2="284.12" y2="471.81" stroke="#000" stroke-width="2.0"/>
<line x1="436.40" y1="414.54" x2="436.40" y2="471.27" stroke="#000" stroke-width="2.0"/>
<line x1="426.65" y1="414.54" x2="446.15" y2="414.54" stroke="#000" stroke-width="2.0"/>
<line x1="426.65" y1="471.27" x2="446.15" y2="471.27" stroke="#000" stroke-width="2.0"/>
<polyline points="114.65,649.10 114.65,649.07 114.67,648.99 114.69,648.86 114.72,648.67 114.76,648.44 114.80,648.14 114.86,647.80 114.92,647.40 115.00,646.96 115.08,646.46 115.17,645.92 115.27,645.32 115.38,644.67 115.49,643.98 115.62,643.24 115.75,642.46 115.89,641.63 116.04,640.76 116.20,639.84 116.37,638.88 116.54,637.88 116.73,636.84 116.92,635.77 117.12,634.65 117.34,633.50 117.55,632.32 117.78,631.10 118.02,629.85 118.26,628.57 118.52,627.26 118.78,625.92 119.05,624.55 119.33,623.16 119.62,621.74 119.91,620.31 120.22,618.84 120.53,617.36 120.85,615.86 121.19,614.34 121.52,612.81 121.87,611.26 122.23,609.69 122.59,608.12 122.97,606.53 123.35,604.92 123.74,603.31 124.14,601.69 124.55,600.07 124.97,598.43 125.39,596.80 125.83,595.15 126.27,593.51 126.72,591.86 127.18,590.21 127.65,588.55 128.12,586.90 128.61,585.25 129.10,583.60 129.61,581.95 130.12,580.31 130.64,578.67 131.17,577.03 131.70,575.40 132.25,573.77 132.80,572.15 133.37,570.54 133.94,568.93 134.52,567.33 135.11,565.74 135.70,564.16 136.31,562.59 136.92,561.03 137.55,559.47 138.18,557.93 138.82,556.40 139.47,554.87 140.12,553.36 140.79,551.86 141.47,550.37 142.15,548.90 142.84,547.43 143.54,545.98 144.25,544.54 144.97,543.11 145.69,541.70 146.43,540.30 147.17,538.91 147.92,537.53 148.68,536.17 149.45,534.82 150.23,533.48 151.02,532.16 151.81,530.85 152.62,529.55 153.43,528.27 154.25,527.00 155.08,525.74 155.92,524.50 156.76,523.26 157.62,522.05 158.48,520.84 159.35,519.65 160.23,518.48 161.12,517.31 162.02,516.16 162.93,515.02 163.84,513.90 164.77,512.78 165.70,511.68 166.64,510.60 167.59,509.52 168.55,508.46 169.51,507.41 170.49,506.37 171.47,505.35 172.47,504.34 173.47,503.33 174.48,502.35 175.50,501.37 176.52,500.40 177.56,499.45 178.60,498.51 179.65,497.58 180.72,496.66 181.79,495.75 182.86,494.85 183.95,493.96 185.05,493.09 186.15,492.22 187.26,491.37 188.39,490.53 189.52,489.69 190.65,488.87 191.80,488.06 192.96,487.25 194.12,486.46 195.29,485.68 196.48,484.90 197.67,484.14 198.86,483.38 200.07,482.64 201.29,481.90 202.51,481.17 203.75,480.45 204.99,479.74 206.24,479.04 207.50,478.35 208.76,477.66 210.04,476.99 211.32,476.32 212.62,475.66 213.92,475.01 215.23,474.37 216.55,473.73 217.88,473.11 219.21,472.49 220.56,471.87 221.91,471.27 223.27,470.67 224.64,470.08 226.02,469.50 227.41,468.92 228.81,468.35 230.21,467.79 231.63,467.23 233.05,466.69 234.48,466.14 235.92,465.61 237.37,465.08 238.82,464.55 240.29,464.04 241.76,463.53 243.24,463.02 244.74,462.52 246.24,462.03 247.74,461.55 249.26,461.06 250.79,460.59 252.32,460.12 253.86,459.66 255.41,459.20 256.97,458.74 258.54,458.29 260.12,457.85 261.70,457.41 263.30,456.98 264.90,456.55 266.51,456.13 268.13,455.71 269.76,455.30 271.40,454.89 273.04,454.49 274.70,454.09 276.36,453.70 278.03,453.31 279.71,452.92 281.40,452.54 283.10,452.16 284.80,451.79 286.52,451.42 288.24,451.06 289.97,450.70 291.71,450.34 293.46,449.99 295.22,449.64 296.98,449.30 298.76,448.96 300.54,448.62 302.33,448.29 304.13,447.96 305.94,447.63 307.76,447.31 309.59,446.99 311.42,446.67 313.26,446.36 315.12,446.05 316.98,445.75 318.84,445.45 320.72,445.15 322.61,444.85 324.50,444.56 326.41,444.27 328.32,443.99 330.24,443.70 332.17,443.42 334.11,443.15 336.05,442.87 338.01,442.60 339.97,442.33 341.94,442.07 343.92,441.80 345.91,441.54 347.91,441.29 349.92,441.03 351.93,440.78 353.96,440.53 355.99,440.28 358.03,440.04 360.08,439.80 362.14,439.56 364.20,439.32 366.28,439.09 368.36,438.85 370.46,438.62 372.56,438.40 374.67,438.17 376.79,437.95 378.91,437.73 381.05,437.51 383.19,437.29 385.34,437.08 387.51,436.87 389.68,436.66 391.85,436.45 394.04,436.24 396.24,436.04 398.44,435.84 400.65,435.64 402.87,435.44 405.10,435.24 407.34,435.05 409.59,434.86 411.85,434.67 414.11,434.48 416.38,434.29 418.66,434.10 420.96,433.92 423.25,433.74 425.56,433.56 427.88,433.38 430.20,433.21 432.53,433.03 434.88,432.86 437.23,432.69 439.59,432.52 441.95,432.35 444.33,432.18 446.71,432.02 449.11,431.85 451.51,431.69 453.92,431.53 456.34,431.37 458.77,431.21 461.20,431.06 463.65,430.90 466.10,430.75 468.56,430.60 471.03,430.44 473.51,430.29 476.00,430.15 478.50,430.00 481.00,429.85 483.51,429.71 486.04,429.57 488.57,429.43 491.11,429.29 493.65,429.15 496.21,429.01 498.78,428.87 501.35,428.74" fill="none" stroke="#000" stroke-width="2.4" stroke-linejoin="round"/>
<circle cx="114.65" cy="649.10" r="7.35" fill="#fff" stroke="#444" stroke-width="1.0"/>
<circle cx="119.69" cy="640.37" r="7.35" fill="#fff" stroke="#444" stroke-width="1.0"/>
<circle cx="124.72" cy="634.92" r="7.35" fill="#fff" stroke="#444" stroke-width="1.0"/>
<circle cx="134.79" cy="625.10" r="7.35" fill="#fff" stroke="#444" stroke-width="1.0"/>
<circle cx="154.43" cy="614.84" r="7.35" fill="#fff" stroke="#444" stroke-width="1.0"/>
<circle cx="194.71" cy="600.88" r="7.35" fill="#fff" stroke="#444" stroke-width="1.0"/>
<circle cx="274.38" cy="603.39" r="7.35" fill="#fff" stroke="#444" stroke-width="1.0"/>
<circle cx="436.40" cy="588.66" r="7.35" fill="#fff" stroke="#444" stroke-width="1.0"/>
<line x1="119.69" y1="637.10" x2="119.69" y2="640.37" stroke="#000" stroke-width="2.0"/>
<line x1="109.94" y1="637.10" x2="129.44" y2="637.10" stroke="#000" stroke-width="2.0"/>
<line x1="124.72" y1="630.55" x2="124.72" y2="634.92" stroke="#000" stroke-width="2.0"/>
<line x1="114.97" y1="630.55" x2="134.47" y2="630.55" stroke="#000" stroke-width="2.0"/>
<line x1="134.79" y1="616.37" x2="134.79" y2="625.10" stroke="#000" stroke-width="2.0"/>
<line x1="125.04" y1="616.37" x2="144.54" y2="616.37" stroke="#000" stroke-width="2.0"/>
<line x1="154.43" y1="600.11" x2="154.43" y2="614.84" stroke="#000" stroke-width="2.0"/>
<line x1="144.68" y1="600.11" x2="164.18" y2="600.11" stroke="#000" stroke-width="2.0"/>
<line x1="194.71" y1="586.69" x2="194.71" y2="600.88" stroke="#000" stroke-width="2.0"/>
<line x1="184.96" y1="586.69" x2="204.46" y2="586.69" stroke="#000" stroke-width="2.0"/>
<line x1="274.38" y1="580.48" x2="274.38" y2="603.39" stroke="#000" stroke-width="2.0"/>
<line x1="264.62" y1="580.48" x2="284.12" y2="580.48" stroke="#000" stroke-width="2.0"/>
<line x1="436.40" y1="574.58" x2="436.40" y2="588.66" stroke="#000" stroke-width="2.0"/>
<line x1="426.65" y1="574.58" x2="446.15" y2="574.58" stroke="#000" stroke-width="2.0"/>
<polyline points="114.65,649.10 114.65,649.09 114.67,649.06 114.69,649.02 114.72,648.96 114.76,648.88 114.80,648.78 114.86,648.67 114.92,648.54 115.00,648.39 115.08,648.23 115.17,648.05 115.27,647.85 115.38,647.64 115.49,647.41 115.62,647.17 115.75,646.92 115.89,646.65 116.04,646.36 116.20,646.06 116.37,645.75 116.54,645.43 116.73,645.09 116.92,644.75 117.12,644.39 117.34,644.02 117.55,643.64 117.78,643.25 118.02,642.86 118.26,642.45 118.52,642.04 118.78,641.61 119.05,641.18 119.33,640.75 119.62,640.31 119.91,639.86 120.22,639.40 120.53,638.95 120.85,638.48 121.19,638.02 121.52,637.55 121.87,637.07 122.23,636.60 122.59,636.12 122.97,635.64 123.35,635.15 123.74,634.67 124.14,634.19 124.55,633.70 124.97,633.22 125.39,632.73 125.83,632.25 126.27,631.76 126.72,631.28 127.18,630.80 127.65,630.32 128.12,629.84 128.61,629.36 129.10,628.88 129.61,628.41 130.12,627.94 130.64,627.47 131.17,627.01 131.70,626.55 132.25,626.09 132.80,625.63 133.37,625.18 133.94,624.73 134.52,624.29 135.11,623.85 135.70,623.41 136.31,622.97 136.92,622.54 137.55,622.12 138.18,621.70 138.82,621.28 139.47,620.87 140.12,620.46 140.79,620.05 141.47,619.65 142.15,619.26 142.84,618.87 143.54,618.48 144.25,618.10 144.97,617.72 145.69,617.35 146.43,616.98 147.17,616.61 147.92,616.25 148.68,615.89 149.45,615.54 150.23,615.20 151.02,614.85 151.81,614.51 152.62,614.18 153.43,613.85 154.25,613.52 155.08,613.20 155.92,612.88 156.76,612.57 157.62,612.26 158.48,611.96 159.35,611.66 160.23,611.36 161.12,611.07 162.02,610.78 162.93,610.49 163.84,610.21 164.77,609.93 165.70,609.66 166.64,609.39 167.59,609.12 168.55,608.86 169.51,608.60 170.49,608.35 171.47,608.09 172.47,607.84 173.47,607.60 174.48,607.36 175.50,607.12 176.52,606.88 177.56,606.65 178.60,606.42 179.65,606.20 180.72,605.98 181.79,605.76 182.86,605.54 183.95,605.33 185.05,605.12 186.15,604.91 187.26,604.71 188.39,604.50 189.52,604.31 190.65,604.11 191.80,603.92 192.96,603.73 194.12,603.54 195.29,603.35 196.48,603.17 197.67,602.99 198.86,602.81 200.07,602.64 201.29,602.46 202.51,602.29 203.75,602.12 204.99,601.96 206.24,601.79 207.50,601.63 208.76,601.47 210.04,601.32 211.32,601.16 212.62,601.01 213.92,600.86 215.23,600.71 216.55,600.56 217.88,600.42 219.21,600.27 220.56,600.13 221.91,599.99 223.27,599.85 224.64,599.72 226.02,599.58 227.41,599.45 228.81,599.32 230.21,599.19 231.63,599.07 233.05,598.94 234.48,598.82 235.92,598.70 237.37,598.58 238.82,598.46 240.29,598.34 241.76,598.22 243.24,598.11 244.74,598.00 246.24,597.88 247.74,597.77 249.26,597.67 250.79,597.56 252.32,597.45 253.86,597.35 255.41,597.24 256.97,597.14 258.54,597.04 260.12,596.94 261.70,596.84 263.30,596.75 264.90,596.65 266.51,596.56 268.13,596.46 269.76,596.37 271.40,596.28 273.04,596.19 274.70,596.10 276.36,596.01 278.03,595.93 279.71,595.84 281.40,595.76 283.10,595.67 284.80,595.59 286.52,595.51 288.24,595.43 289.97,595.35 291.71,595.27 293.46,595.19 295.22,595.11 296.98,595.04 298.76,594.96 300.54,594.89 302.33,594.81 304.13,594.74 305.94,594.67 307.76,594.60 309.59,594.53 311.42,594.46 313.26,594.39 315.12,594.32 316.98,594.26 318.84,594.19 320.72,594.12 322.61,594.06 324.50,594.00 326.41,593.93 328.32,593.87 330.24,593.81 332.17,593.75 334.11,593.69 336.05,593.63 338.01,593.57 339.97,593.51 341.94,593.45 343.92,593.39 345.91,593.34 347.91,593.28 349.92,593.22 351.93,593.17 353.96,593.12 355.99,593.06 358.03,593.01 360.08,592.96 362.14,592.90 364.20,592.85 366.28,592.80 368.36,592.75 370.46,592.70 372.56,592.65 374.67,592.60 376.79,592.56 378.91,592.51 381.05,592.46 383.19,592.41 385.34,592.37 387.51,592.32 389.68,592.28 391.85,592.23 394.04,592.19 396.24,592.14 398.44,592.10 400.65,592.06 402.87,592.01 405.10,591.97 407.34,591.93 409.59,591.89 411.85,591.85 414.11,591.81 416.38,591.77 418.66,591.73 420.96,591.69 423.25,591.65 425.56,591.61 427.88,591.57 430.20,591.53 432.53,591.50 434.88,591.46 437.23,591.42 439.59,591.39 441.95,591.35 444.33,591.31 446.71,591.28 449.11,591.24 451.51,591.21 453.92,591.17 456.34,591.14 458.77,591.11 461.20,591.07 463.65,591.04 466.10,591.01 468.56,590.97 471.03,590.94 473.51,590.91 476.00,590.88 478.50,590.85 481.00,590.82 483.51,590.79 486.04,590.76 488.57,590.73 491.11,590.70 493.65,590.67 496.21,590.64 498.78,590.61 501.35,590.58" fill="none" stroke="#000" stroke-width="2.4" stroke-linejoin="round"/>
<line x1="124.72" y1="644.19" x2="124.72" y2="647.25" stroke="#000" stroke-width="2.0"/>
<line x1="114.97" y1="647.25" x2="134.47" y2="647.25" stroke="#000" stroke-width="2.0"/>
<line x1="134.79" y1="636.55" x2="134.79" y2="640.92" stroke="#000" stroke-width="2.0"/>
<line x1="125.04" y1="640.92" x2="144.54" y2="640.92" stroke="#000" stroke-width="2.0"/>
<line x1="154.43" y1="633.28" x2="154.43" y2="641.14" stroke="#000" stroke-width="2.0"/>
<line x1="144.68" y1="641.14" x2="164.18" y2="641.14" stroke="#000" stroke-width="2.0"/>
<line x1="194.71" y1="628.04" x2="194.71" y2="637.75" stroke="#000" stroke-width="2.0"/>
<line x1="184.96" y1="637.75" x2="204.46" y2="637.75" stroke="#000" stroke-width="2.0"/>
<line x1="274.38" y1="627.61" x2="274.38" y2="637.43" stroke="#000" stroke-width="2.0"/>
<line x1="264.62" y1="637.43" x2="284.12" y2="637.43" stroke="#000" stroke-width="2.0"/>
<line x1="436.40" y1="623.79" x2="436.40" y2="635.24" stroke="#000" stroke-width="2.0"/>
<line x1="426.65" y1="635.24" x2="446.15" y2="635.24" stroke="#000" stroke-width="2.0"/>
<polyline points="114.65,649.10 114.65,649.10 114.67,649.09 114.69,649.07 114.72,649.04 114.76,649.01 114.80,648.97 114.86,648.92 114.92,648.87 115.00,648.80 115.08,648.74 115.17,648.66 115.27,648.58 115.38,648.49 115.49,648.39 115.62,648.29 115.75,648.19 115.89,648.07 116.04,647.95 116.20,647.83 116.37,647.70 116.54,647.56 116.73,647.42 116.92,647.27 117.12,647.12 117.34,646.97 117.55,646.81 117.78,646.64 118.02,646.48 118.26,646.31 118.52,646.13 118.78,645.95 119.05,645.77 119.33,645.59 119.62,645.40 119.91,645.21 120.22,645.01 120.53,644.82 120.85,644.62 121.19,644.42 121.52,644.22 121.87,644.02 122.23,643.82 122.59,643.61 122.97,643.41 123.35,643.20 123.74,642.99 124.14,642.79 124.55,642.58 124.97,642.37 125.39,642.16 125.83,641.95 126.27,641.74 126.72,641.54 127.18,641.33 127.65,641.12 128.12,640.91 128.61,640.71 129.10,640.50 129.61,640.30 130.12,640.09 130.64,639.89 131.17,639.69 131.70,639.49 132.25,639.29 132.80,639.09 133.37,638.89 133.94,638.70 134.52,638.50 135.11,638.31 135.70,638.12 136.31,637.93 136.92,637.74 137.55,637.55 138.18,637.37 138.82,637.19 139.47,637.01 140.12,636.83 140.79,636.65 141.47,636.47 142.15,636.30 142.84,636.12 143.54,635.95 144.25,635.79 144.97,635.62 145.69,635.45 146.43,635.29 147.17,635.13 147.92,634.97 148.68,634.81 149.45,634.65 150.23,634.50 151.02,634.35 151.81,634.20 152.62,634.05 153.43,633.90 154.25,633.76 155.08,633.61 155.92,633.47 156.76,633.33 157.62,633.20 158.48,633.06 159.35,632.92 160.23,632.79 161.12,632.66 162.02,632.53 162.93,632.40 163.84,632.28 164.77,632.15 165.70,632.03 166.64,631.91 167.59,631.79 168.55,631.67 169.51,631.56 170.49,631.44 171.47,631.33 172.47,631.22 173.47,631.11 174.48,631.00 175.50,630.89 176.52,630.78 177.56,630.68 178.60,630.58 179.65,630.48 180.72,630.38 181.79,630.28 182.86,630.18 183.95,630.08 185.05,629.99 186.15,629.89 187.26,629.80 188.39,629.71 189.52,629.62 190.65,629.53 191.80,629.44 192.96,629.36 194.12,629.27 195.29,629.19 196.48,629.10 197.67,629.02 198.86,628.94 200.07,628.86 201.29,628.78 202.51,628.71 203.75,628.63 204.99,628.55 206.24,628.48 207.50,628.41 208.76,628.33 210.04,628.26 211.32,628.19 212.62,628.12 213.92,628.05 215.23,627.99 216.55,627.92 217.88,627.85 219.21,627.79 220.56,627.72 221.91,627.66 223.27,627.60 224.64,627.53 226.02,627.47 227.41,627.41 228.81,627.35 230.21,627.29 231.63,627.24 233.05,627.18 234.48,627.12 235.92,627.07 237.37,627.01 238.82,626.96 240.29,626.90 241.76,626.85 243.24,626.80 244.74,626.75 246.24,626.70 247.74,626.65 249.26,626.60 250.79,626.55 252.32,626.50 253.86,626.45 255.41,626.40 256.97,626.36 258.54,626.31 260.12,626.26 261.70,626.22 263.30,626.17 264.90,626.13 266.51,626.09 268.13,626.04 269.76,626.00 271.40,625.96 273.04,625.92 274.70,625.88 276.36,625.84 278.03,625.80 279.71,625.76 281.40,625.72 283.10,625.68 284.80,625.64 286.52,625.60 288.24,625.57 289.97,625.53 291.71,625.49 293.46,625.46 295.22,625.42 296.98,625.39 298.76,625.35 300.54,625.32 302.33,625.29 304.13,625.25 305.94,625.22 307.76,625.19 309.59,625.15 311.42,625.12 313.26,625.09 315.12,625.06 316.98,625.03 318.84,625.00 320.72,624.97 322.61,624.94 324.50,624.91 326.41,624.88 328.32,624.85 330.24,624.82 332.17,624.79 334.11,624.77 336.05,624.74 338.01,624.71 339.97,624.68 341.94,624.66 343.92,624.63 345.91,624.60 347.91,624.58 349.92,624.55 351.93,624.53 353.96,624.50 355.99,624.48 358.03,624.45 360.08,624.43 362.14,624.40 364.20,624.38 366.28,624.36 368.36,624.33 370.46,624.31 372.56,624.29 374.67,624.27 376.79,624.24 378.91,624.22 381.05,624.20 383.19,624.18 385.34,624.16 387.51,624.13 389.68,624.11 391.85,624.09 394.04,624.07 396.24,624.05 398.44,624.03 400.65,624.01 402.87,623.99 405.10,623.97 407.34,623.95 409.59,623.93 411.85,623.91 414.11,623.90 416.38,623.88 418.66,623.86 420.96,623.84 423.25,623.82 425.56,623.80 427.88,623.79 430.20,623.77 432.53,623.75 434.88,623.73 437.23,623.72 439.59,623.70 441.95,623.68 444.33,623.67 446.71,623.65 449.11,623.64 451.51,623.62 453.92,623.60 456.34,623.59 458.77,623.57 461.20,623.56 463.65,623.54 466.10,623.53 468.56,623.51 471.03,623.50 473.51,623.48 476.00,623.47 478.50,623.45 481.00,623.44 483.51,623.42 486.04,623.41 488.57,623.39 491.11,623.38 493.65,623.37 496.21,623.35 498.78,623.34 501.35,623.33" fill="none" stroke="#000" stroke-width="2.4" stroke-linejoin="round"/>
<polygon points="107.50,643.85 121.80,643.85 114.65,654.35" fill="#fff" stroke="#444" stroke-width="1.0"/>
<polygon points="112.54,640.58 126.84,640.58 119.69,651.08" fill="#fff" stroke="#444" stroke-width="1.0"/>
<polygon points="117.57,638.94 131.87,638.94 124.72,649.44" fill="#fff" stroke="#444" stroke-width="1.0"/>
<polygon points="127.64,631.30 141.94,631.30 134.79,641.80" fill="#fff" stroke="#444" stroke-width="1.0"/>
<polygon points="147.28,628.03 161.58,628.03 154.43,638.53" fill="#fff" stroke="#444" stroke-width="1.0"/>
<polygon points="187.56,622.79 201.86,622.79 194.71,633.29" fill="#fff" stroke="#444" stroke-width="1.0"/>
<polygon points="267.23,622.36 281.52,622.36 274.38,632.86" fill="#fff" stroke="#444" stroke-width="1.0"/>
<polygon points="429.25,618.54 443.55,618.54 436.40,629.04" fill="#fff" stroke="#444" stroke-width="1.0"/>
<g fill="#000"><text transform="translate(99.90,315.70) scale(1.0,1)" font-size="23.5" stroke="#000" stroke-width="0.35" letter-spacing="0" text-anchor="end">0</text>
<text transform="translate(99.90,270.35) scale(1.0,1)" font-size="23.5" stroke="#000" stroke-width="0.35" letter-spacing="0" text-anchor="end">5</text>
<text transform="translate(102.10,225.00) scale(1.0,1)" font-size="23.5" stroke="#000" stroke-width="0.35" letter-spacing="2.2" text-anchor="end">10</text>
<text transform="translate(102.10,179.65) scale(1.0,1)" font-size="23.5" stroke="#000" stroke-width="0.35" letter-spacing="2.2" text-anchor="end">15</text>
<text transform="translate(102.10,134.30) scale(1.0,1)" font-size="23.5" stroke="#000" stroke-width="0.35" letter-spacing="2.2" text-anchor="end">20</text>
<text transform="translate(102.10,88.95) scale(1.0,1)" font-size="23.5" stroke="#000" stroke-width="0.35" letter-spacing="2.2" text-anchor="end">25</text>
<text transform="translate(102.10,43.60) scale(1.0,1)" font-size="23.5" stroke="#000" stroke-width="0.35" letter-spacing="2.2" text-anchor="end">30</text>
<text transform="translate(100.10,656.30) scale(1.0,1)" font-size="23.5" stroke="#000" stroke-width="0.35" letter-spacing="0" text-anchor="end">0</text>
<text transform="translate(100.10,601.75) scale(1.0,1)" font-size="23.5" stroke="#000" stroke-width="0.35" letter-spacing="0" text-anchor="end">5</text>
<text transform="translate(101.20,547.20) scale(1.0,1)" font-size="23.5" stroke="#000" stroke-width="0.35" letter-spacing="2.2" text-anchor="end">10</text>
<text transform="translate(101.20,492.65) scale(1.0,1)" font-size="23.5" stroke="#000" stroke-width="0.35" letter-spacing="2.2" text-anchor="end">15</text>
<text transform="translate(101.20,438.10) scale(1.0,1)" font-size="23.5" stroke="#000" stroke-width="0.35" letter-spacing="2.2" text-anchor="end">20</text>
<text transform="translate(101.20,383.55) scale(1.0,1)" font-size="23.5" stroke="#000" stroke-width="0.35" letter-spacing="2.2" text-anchor="end">25</text>
<text transform="translate(116.05,678.60) scale(1.02,1)" font-size="23.5" stroke="#000" stroke-width="0.35" letter-spacing="0.7" text-anchor="middle">0</text>
<text transform="translate(180.50,678.60) scale(1.02,1)" font-size="23.5" stroke="#000" stroke-width="0.35" letter-spacing="0.7" text-anchor="middle">0.2</text>
<text transform="translate(244.95,678.60) scale(1.02,1)" font-size="23.5" stroke="#000" stroke-width="0.35" letter-spacing="0.7" text-anchor="middle">0.4</text>
<text transform="translate(309.40,678.60) scale(1.02,1)" font-size="23.5" stroke="#000" stroke-width="0.35" letter-spacing="0.7" text-anchor="middle">0.6</text>
<text transform="translate(373.85,678.60) scale(1.02,1)" font-size="23.5" stroke="#000" stroke-width="0.35" letter-spacing="0.7" text-anchor="middle">0.8</text>
<text transform="translate(436.30,678.60) scale(1.02,1)" font-size="23.5" stroke="#000" stroke-width="0.35" letter-spacing="0.7" text-anchor="middle">1</text>
<text transform="translate(503.95,678.60) scale(1.02,1)" font-size="23.5" stroke="#000" stroke-width="0.35" letter-spacing="0.7" text-anchor="middle">1.2</text>
<text x="36.00" y="26.00" font-size="35" font-weight="bold" text-anchor="start" >A</text>
<text x="39.50" y="365.00" font-size="35" font-weight="bold" text-anchor="start" >B</text>
<text x="160.00" y="727.00" font-size="27" font-weight="bold" text-anchor="start" letter-spacing="0.42">Factor Xa added (nM)</text>
<text x="0.00" y="0.00" font-size="27" font-weight="bold" text-anchor="start" letter-spacing="0.4" transform="translate(24,512) rotate(-90)">thrombin formed (nM/min)</text></g>
</svg>
</body></html>
